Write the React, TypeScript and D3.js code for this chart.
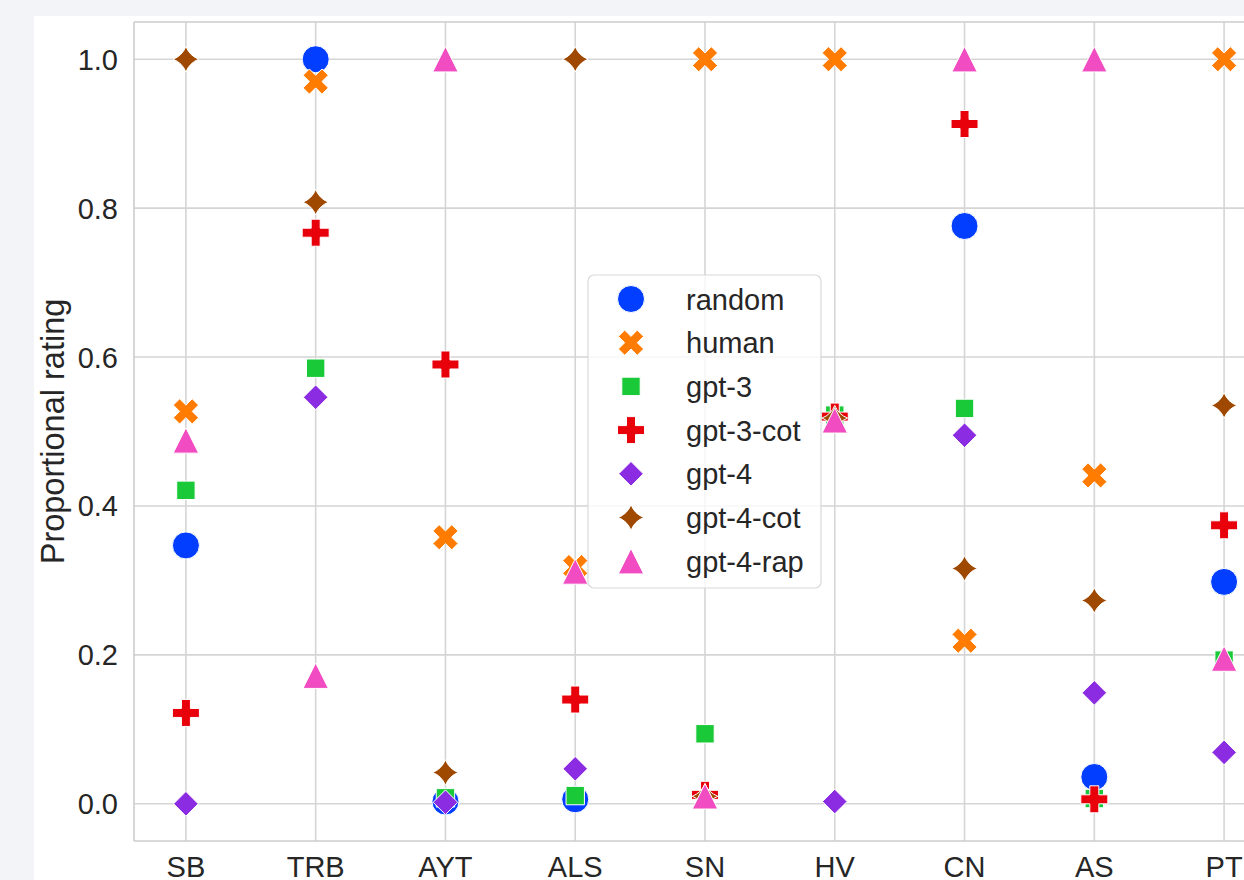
import React from 'react'
import * as d3 from 'd3'

const categories = ['SB', 'TRB', 'AYT', 'ALS', 'SN', 'HV', 'CN', 'AS', 'PT']
const seriesNames = ['random', 'human', 'gpt-3', 'gpt-3-cot', 'gpt-4', 'gpt-4-cot', 'gpt-4-rap']

const random = [0.347, 1.0, 0.003, 0.006, null, null, 0.776, 0.036, 0.298]
const human = [0.527, 0.97, 0.358, 0.318, 1.0, 1.0, 0.219, 0.441, 1.0]
const gpt3 = [0.421, 0.585, 0.008, 0.011, 0.094, 0.522, 0.531, 0.007, 0.193]
const gpt3Cot = [0.122, 0.767, 0.59, 0.14, 0.012, 0.52, 0.913, 0.006, 0.374]
const gpt4 = [0.0, 0.546, 0.002, 0.047, null, 0.003, 0.495, 0.149, 0.069]
const gpt4Cot = [1.0, 0.808, 0.042, 1.0, 0.01, 0.518, 0.316, 0.273, 0.535]
const gpt4Rap = [0.488, 0.172, 1.0, 0.312, 0.01, 0.515, 1.0, 1.0, 0.195]

const seriesValues = [random, human, gpt3, gpt3Cot, gpt4, gpt4Cot, gpt4Rap]
const colors = ['#023eff', '#ff7c00', '#1ac938', '#e8000b', '#8b2be2', '#9f4800', '#f14cc1']
const markers = ['circle', 'x', 'square', 'plus', 'diamond', 'star', 'triangle']
const yTicks = [0, 0.2, 0.4, 0.6, 0.8, 1.0]

const font = '"Liberation Sans", Arial, sans-serif'
const textColor = '#262626'
const gridColor = '#d5d5d5'

function poly (pts: number[][], k: number) {
  return 'M' + pts.map(p => (p[0] * k).toFixed(2) + ',' + (p[1] * k).toFixed(2)).join('L') + 'Z'
}

// marker outlines, centred on 0,0
function markerPath (type: string) {
  if (type === 'circle') {
    const p = d3.path()
    p.arc(0, 0, 13.5, 0, 2 * Math.PI)
    p.closePath()
    return p.toString()
  }
  if (type === 'x') {
    return poly([[-1, -2], [0, -1], [1, -2], [2, -1], [1, 0], [2, 1], [1, 2], [0, 1], [-1, 2], [-2, 1], [-1, 0], [-2, -1]], 6.3)
  }
  if (type === 'plus') {
    return poly([[-1, -3], [-1, -1], [-3, -1], [-3, 1], [-1, 1], [-1, 3], [1, 3], [1, 1], [3, 1], [3, -1], [1, -1], [1, -3]], 4.5)
  }
  if (type === 'square') {
    return poly([[-1, -1], [1, -1], [1, 1], [-1, 1]], 9.2)
  }
  if (type === 'diamond') {
    return poly([[0, -1], [1, 0], [0, 1], [-1, 0]], 12.3)
  }
  if (type === 'star') {
    // four-point star with slightly concave sides
    const r = 12.8
    const k = 0.28 * r
    return `M0,${-r}Q${k},${-k} ${r},0Q${k},${k} 0,${r}Q${-k},${k} ${-r},0Q${-k},${-k} 0,${-r}Z`
  }
  // triangle up
  return poly([[0, -1], [-1, 1], [1, 1]], 12.7)
}

export default function App () {
  const width = 1244
  const height = 880
  const margin = { left: 134, top: 22, right: 1276, bottom: 841 }

  const x = d3.scaleLinear().domain([-0.4, categories.length - 1 + 0.4]).range([margin.left, margin.right])
  const y = d3.scaleLinear().domain([-0.05, 1.05]).range([margin.bottom, margin.top])

  const legendX = 588
  const legendY = 275
  const rowH = 43.7

  return (
    <svg width={width} height={height} style={{ position: 'absolute', left: 0, top: 0 }}>
      <rect x={0} y={0} width={width} height={height} fill='#f3f4f8' />
      <rect x={34} y={16} width={width - 34} height={height - 16} fill='#ffffff' />

      {/* grid */}
      {yTicks.map(t => (
        <line key={'gy' + t} x1={margin.left} x2={width} y1={y(t)} y2={y(t)} stroke={gridColor} strokeWidth={1.6} />
      ))}
      {categories.map((c, i) => (
        <line key={'gx' + c} x1={x(i)} x2={x(i)} y1={margin.top} y2={margin.bottom} stroke={gridColor} strokeWidth={1.6} />
      ))}

      {/* spines */}
      <line x1={margin.left} x2={width} y1={margin.top} y2={margin.top} stroke='#cccccc' strokeWidth={1.6} />
      <line x1={margin.left} x2={width} y1={margin.bottom} y2={margin.bottom} stroke='#cccccc' strokeWidth={1.6} />
      <line x1={margin.left} x2={margin.left} y1={margin.top} y2={margin.bottom} stroke='#cccccc' strokeWidth={1.6} />

      {/* tick labels */}
      {yTicks.map(t => (
        <text key={'ty' + t} x={118} y={y(t) + 10.5} textAnchor='end' fontFamily={font} fontSize={29} fill={textColor}>
          {t.toFixed(1)}
        </text>
      ))}
      {categories.map((c, i) => (
        <text key={'tx' + c} x={x(i)} y={877} textAnchor='middle' fontFamily={font} fontSize={29} fill={textColor}>
          {c}
        </text>
      ))}
      <text
        transform={`translate(64,${(margin.top + margin.bottom) / 2}) rotate(-90)`}
        textAnchor='middle' fontFamily={font} fontSize={32.5} fill={textColor}
      >
        Proportional rating
      </text>

      {/* points */}
      {seriesValues.map((vals, s) => (
        <g key={seriesNames[s]}>
          {vals.map((v, i) => v === null ? null : (
            <path
              key={i}
              d={markerPath(markers[s])}
              transform={`translate(${x(i)},${y(v)})`}
              fill={colors[s]}
              stroke='#ffffff'
              strokeWidth={1}
            />
          ))}
        </g>
      ))}

      {/* legend */}
      <rect x={legendX} y={legendY} width={233} height={313} rx={6} fill='#ffffff' fillOpacity={0.8} stroke='#d9d9d9' strokeWidth={1.2} />
      {seriesNames.map((n, s) => {
        const cy = legendY + 24 + s * rowH
        return (
          <g key={'lg' + n}>
            <path d={markerPath(markers[s])} transform={`translate(631,${cy})`} fill={colors[s]} stroke='#ffffff' strokeWidth={1} />
            <text x={686} y={cy + 10.5} fontFamily={font} fontSize={29} fill={textColor}>{n}</text>
          </g>
        )
      })}
    </svg>
  )
}
